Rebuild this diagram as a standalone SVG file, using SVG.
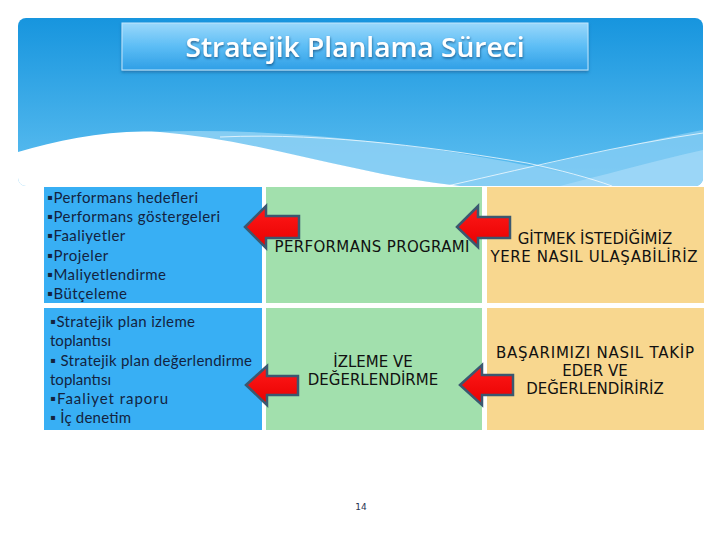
<svg xmlns="http://www.w3.org/2000/svg" width="720" height="540" viewBox="0 0 720 540">
<defs>
<linearGradient id="hdr" x1="0" y1="0" x2="0" y2="1">
<stop offset="0" stop-color="#1795de"/>
<stop offset="1" stop-color="#60c0f1"/>
</linearGradient>
<linearGradient id="ttl" x1="0" y1="0" x2="0" y2="1">
<stop offset="0" stop-color="#9ad8fb"/>
<stop offset="0.5" stop-color="#5cbdf5"/>
<stop offset="1" stop-color="#2f9fe6"/>
</linearGradient>
<linearGradient id="red" x1="0" y1="0" x2="0" y2="1">
<stop offset="0" stop-color="#ff1a1a"/>
<stop offset="1" stop-color="#e80000"/>
</linearGradient>
<clipPath id="hclip"><rect x="18" y="18" width="685" height="168" rx="8"/></clipPath>
<filter id="sh" x="-10%" y="-20%" width="120%" height="150%">
<feDropShadow dx="0" dy="2" stdDeviation="1.5" flood-color="#0b4f80" flood-opacity="0.5"/>
</filter>
<filter id="tsh" x="-5%" y="-20%" width="110%" height="150%">
<feDropShadow dx="0.5" dy="1.5" stdDeviation="0.8" flood-color="#0a3f6a" flood-opacity="0.7"/>
</filter>
</defs>
<style>
.c1{fill:#38aff4}
.c2{fill:#a2e0ad}
.c3{fill:#f8d78f}
.lst{font-family:"Lato","Liberation Sans",sans-serif;font-size:15px;fill:#13233f}
.mid{font-family:"DejaVu Sans","Liberation Sans",sans-serif;font-size:15px;fill:#111;text-anchor:middle}
.arr{fill:url(#red);stroke:#3b5870;stroke-width:2.5;stroke-linejoin:miter}
</style>
<rect width="720" height="540" fill="#ffffff"/>
<g id="header">
<g clip-path="url(#hclip)">
<rect x="18" y="18" width="685" height="168" fill="url(#hdr)"/>
<path d="M150,132 C300,126 450,150 530,166 C570,174 600,180 620,186 L460,186 C360,176 260,140 150,132 Z" fill="#8fd1f5" opacity="0.85"/>
<path d="M703,130 C640,142 540,166 447,186 L703,186 Z" fill="#86cdf4" opacity="0.8"/>
<path d="M703,150 C650,162 600,176 560,186 L703,186 Z" fill="#a8dcf8" opacity="0.7"/>
<path d="M18,152 C60,140 110,129 160,132 C260,140 360,176 460,186 L18,186 Z" fill="#ffffff"/>
<path d="M220,137 C330,132 450,150 527,163 C560,170 590,178 612,186" fill="none" stroke="#ffffff" stroke-width="0.8" opacity="0.9"/>
<path d="M447,186 C540,165 620,145 703,133" fill="none" stroke="#ffffff" stroke-width="0.8" opacity="0.9"/>
</g>
</g>
<g id="title">
<rect x="122" y="23" width="466" height="47" fill="url(#ttl)" stroke="#bfe6fd" stroke-width="1" filter="url(#sh)"/>
<text x="355" y="57" text-anchor="middle" font-family="'Open Sans','Liberation Sans',sans-serif" font-weight="600" font-size="27" fill="#ffffff" filter="url(#tsh)" textLength="339" lengthAdjust="spacingAndGlyphs">Stratejik Planlama Süreci</text>
</g>
<g id="cell-list1">
<rect class="c1" x="44" y="187" width="218" height="116"/>
<text class="lst">
<tspan x="47" y="203" textLength="151">▪Performans hedefleri</tspan>
<tspan x="47" y="222" textLength="173">▪Performans göstergeleri</tspan>
<tspan x="47" y="241" textLength="78">▪Faaliyetler</tspan>
<tspan x="47" y="261" textLength="61">▪Projeler</tspan>
<tspan x="47" y="280" textLength="119">▪Maliyetlendirme</tspan>
<tspan x="47" y="299" textLength="80">▪Bütçeleme</tspan>
</text>
</g>
<g id="cell-list2">
<rect class="c1" x="44" y="308" width="218" height="122"/>
<text class="lst">
<tspan x="50" y="327" textLength="145">▪Stratejik plan izleme</tspan>
<tspan x="50" y="346" textLength="61">toplantısı</tspan>
<tspan x="50" y="366" textLength="202">▪ Stratejik plan değerlendirme</tspan>
<tspan x="50" y="385" textLength="61">toplantısı</tspan>
<tspan x="50" y="404" textLength="118">▪Faaliyet raporu</tspan>
<tspan x="50" y="423" textLength="81">▪ İç denetim</tspan>
</text>
</g>
<g id="cell-program">
<rect class="c2" x="266" y="187" width="216" height="116"/>
<text class="mid" x="372" y="252" textLength="195">PERFORMANS PROGRAMI</text>
</g>
<g id="cell-izleme">
<rect class="c2" x="266" y="308" width="216" height="122"/>
<text class="mid"><tspan x="373" y="367">İZLEME VE</tspan><tspan x="373" y="385">DEĞERLENDİRME</tspan></text>
</g>
<g id="cell-gitmek">
<rect class="c3" x="487" y="187" width="217" height="116"/>
<text class="mid"><tspan x="595" y="244">GİTMEK İSTEDİĞİMİZ</tspan><tspan x="594" y="262" textLength="207">YERE NASIL ULAŞABİLİRİZ</tspan></text>
</g>
<g id="cell-basari">
<rect class="c3" x="487" y="308" width="217" height="122"/>
<text class="mid"><tspan x="595" y="358" textLength="198">BAŞARIMIZI NASIL TAKİP</tspan><tspan x="595" y="376">EDER VE</tspan><tspan x="595" y="394">DEĞERLENDİRİRİZ</tspan></text>
</g>
<g id="connectors">
<polygon class="arr" points="245,227 266,206 266,216 299,216 299,238 266,238 266,248"/>
<polygon class="arr" points="457,227 478,206 478,217 510,217 510,238 478,238 478,247"/>
<polygon class="arr" points="246,385 267,366 267,376 298,376 298,395 267,395 267,405"/>
<polygon class="arr" points="460,385 482,365 482,375 513,375 513,395 482,395 482,405"/>
</g>
<g id="page-number">
<text x="361" y="510" text-anchor="middle" font-family="'DejaVu Sans','Liberation Sans',sans-serif" font-size="9" fill="#1f3550">14</text>
</g>
</svg>
